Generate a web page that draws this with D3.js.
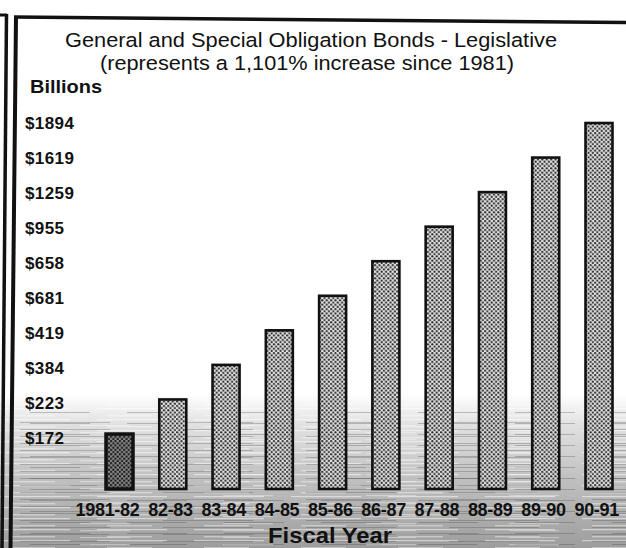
<!DOCTYPE html>
<html>
<head>
<meta charset="utf-8">
<script src="https://cdn.jsdelivr.net/npm/d3@7"></script>
<style>
  html, body { margin: 0; padding: 0; background: #fff; }
  svg { display: block; }
  text { font-family: "Liberation Sans", Arial, Helvetica, sans-serif; fill: #111; }
</style>
</head>
<body>
<div id="chart"></div>
<script>
// ---- data ----
const fiscalYears = ["1981-82", "82-83", "83-84", "84-85", "85-86", "86-87", "87-88", "88-89", "89-90", "90-91"];
const bondValues = [172, 223, 384, 419, 681, 658, 955, 1259, 1619, 1894];   // billions, as labelled
const yTickLabels = ["$172", "$223", "$384", "$419", "$681", "$658", "$955", "$1259", "$1619", "$1894"]; // bottom to top
const titleText = "General and Special Obligation Bonds - Legislative";
const subtitleText = "(represents a 1,101% increase since 1981)";
const yAxisTitle = "Billions";
const xAxisTitle = "Fiscal Year";

const W = 626, H = 548;
const svg = d3.select("#chart").append("svg").attr("width", W).attr("height", H);
const defs = svg.append("defs");

// halftone patterns for bars
function halftone(id, bg, dot, r) {
  const p = defs.append("pattern").attr("id", id).attr("patternUnits", "userSpaceOnUse")
    .attr("width", 4.4).attr("height", 4.4);
  p.append("rect").attr("width", 4.4).attr("height", 4.4).attr("fill", bg);
  p.append("circle").attr("cx", 1.1).attr("cy", 1.1).attr("r", r).attr("fill", dot);
  p.append("circle").attr("cx", 3.3).attr("cy", 3.3).attr("r", r).attr("fill", dot);
}
halftone("dotsLight", "#e2e2e2", "#2a2a2a", 1.1);
halftone("dotsDark", "#8a8a8a", "#1a1a1a", 1.2);

// scan noise texture at the bottom
const grad = defs.append("linearGradient").attr("id", "scanGrad").attr("x1", 0).attr("y1", 0).attr("x2", 0).attr("y2", 1);
grad.append("stop").attr("offset", "0").attr("stop-color", "#9a9a9a").attr("stop-opacity", 0);
grad.append("stop").attr("offset", "0.2").attr("stop-color", "#9a9a9a").attr("stop-opacity", 0.3);
grad.append("stop").attr("offset", "0.55").attr("stop-color", "#8c8c8c").attr("stop-opacity", 0.55);
grad.append("stop").attr("offset", "1").attr("stop-color", "#7c7c7c").attr("stop-opacity", 0.75);
function stripePattern(id, w, h, rows) {
  const p = defs.append("pattern").attr("id", id).attr("patternUnits", "userSpaceOnUse").attr("width", w).attr("height", h);
  rows.forEach(r => p.append("rect").attr("x", r[0]).attr("y", r[1]).attr("width", r[2]).attr("height", r[3])
    .attr("fill", r[4]).attr("opacity", r[5]));
}
stripePattern("scanStripesA", 97, 11, [[0, 1, 70, 1.2, "#fff", 0.5], [30, 5, 60, 1, "#444", 0.3], [10, 8, 45, 1.4, "#fff", 0.4]]);
stripePattern("scanStripesB", 143, 7, [[20, 2, 90, 1, "#333", 0.25], [80, 5, 50, 1.2, "#fff", 0.35]]);

svg.append("rect").attr("x", 0).attr("y", 394).attr("width", W).attr("height", H - 394).attr("fill", "url(#scanGrad)");
svg.append("rect").attr("x", 0).attr("y", 404).attr("width", W).attr("height", H - 404).attr("fill", "url(#scanStripesA)");
svg.append("rect").attr("x", 0).attr("y", 420).attr("width", W).attr("height", H - 420).attr("fill", "url(#scanStripesB)");

// ---- frame (scanned double border on the left, rule on top) ----
const frame = svg.append("g").attr("stroke", "#111").attr("fill", "none");
frame.append("line").attr("x1", 6.5).attr("y1", 14).attr("x2", 2).attr("y2", H).attr("stroke-width", 3.5);
frame.append("line").attr("x1", 0).attr("y1", 15).attr("x2", 7).attr("y2", 15).attr("stroke-width", 3);
frame.append("line").attr("x1", 16).attr("y1", 16).attr("x2", 10.5).attr("y2", H).attr("stroke-width", 4);
frame.append("line").attr("x1", 14).attr("y1", 17).attr("x2", W).attr("y2", 22.5).attr("stroke-width", 3.5);

// ---- scales ----
const x = d3.scalePoint().domain(fiscalYears).range([119.5, 599]);
const barW = 27;
const y = d3.scalePoint().domain(yTickLabels).range([434, 123]);       // bar tops
const yLabel = d3.scalePoint().domain(yTickLabels).range([438, 122.5]); // label centres
const baseY = 489;

// ---- titles ----
svg.append("text").attr("x", 311).attr("y", 47).attr("text-anchor", "middle")
  .attr("font-size", 20.5).attr("textLength", 492).attr("lengthAdjust", "spacingAndGlyphs").text(titleText);
svg.append("text").attr("x", 307).attr("y", 70).attr("text-anchor", "middle")
  .attr("font-size", 20.5).attr("textLength", 414).attr("lengthAdjust", "spacingAndGlyphs").text(subtitleText);
svg.append("text").attr("x", 30).attr("y", 93).attr("font-size", 18.5).attr("font-weight", "bold")
  .attr("textLength", 72).attr("lengthAdjust", "spacingAndGlyphs").text(yAxisTitle);

// ---- y tick labels ----
svg.append("g").selectAll("text").data(yTickLabels).join("text")
  .attr("x", 25).attr("y", d => yLabel(d) + 6)
  .attr("font-size", 17).attr("font-weight", "bold").attr("letter-spacing", "0.4")
  .text(d => d);

// ---- bars ----
svg.append("g").selectAll("rect").data(bondValues).join("rect")
  .attr("x", (d, i) => x(fiscalYears[i]) - barW / 2)
  .attr("y", (d, i) => y(yTickLabels[i]))
  .attr("width", barW)
  .attr("height", (d, i) => baseY - y(yTickLabels[i]))
  .attr("fill", (d, i) => i === 0 ? "url(#dotsDark)" : "url(#dotsLight)")
  .attr("stroke", "#111").attr("stroke-width", (d, i) => i === 0 ? 3.5 : 2.6);

// ---- x labels ----
svg.append("g").selectAll("text").data(fiscalYears).join("text")
  .attr("x", d => x(d) + 20).attr("y", 516).attr("text-anchor", "end")
  .attr("font-size", 18).attr("font-weight", "bold").attr("letter-spacing", "-0.3")
  .text(d => d);

svg.append("text").attr("x", 330).attr("y", 543).attr("text-anchor", "middle")
  .attr("font-size", 21.5).attr("font-weight", "bold").attr("textLength", 124)
  .attr("lengthAdjust", "spacingAndGlyphs").text(xAxisTitle);
</script>
</body>
</html>
